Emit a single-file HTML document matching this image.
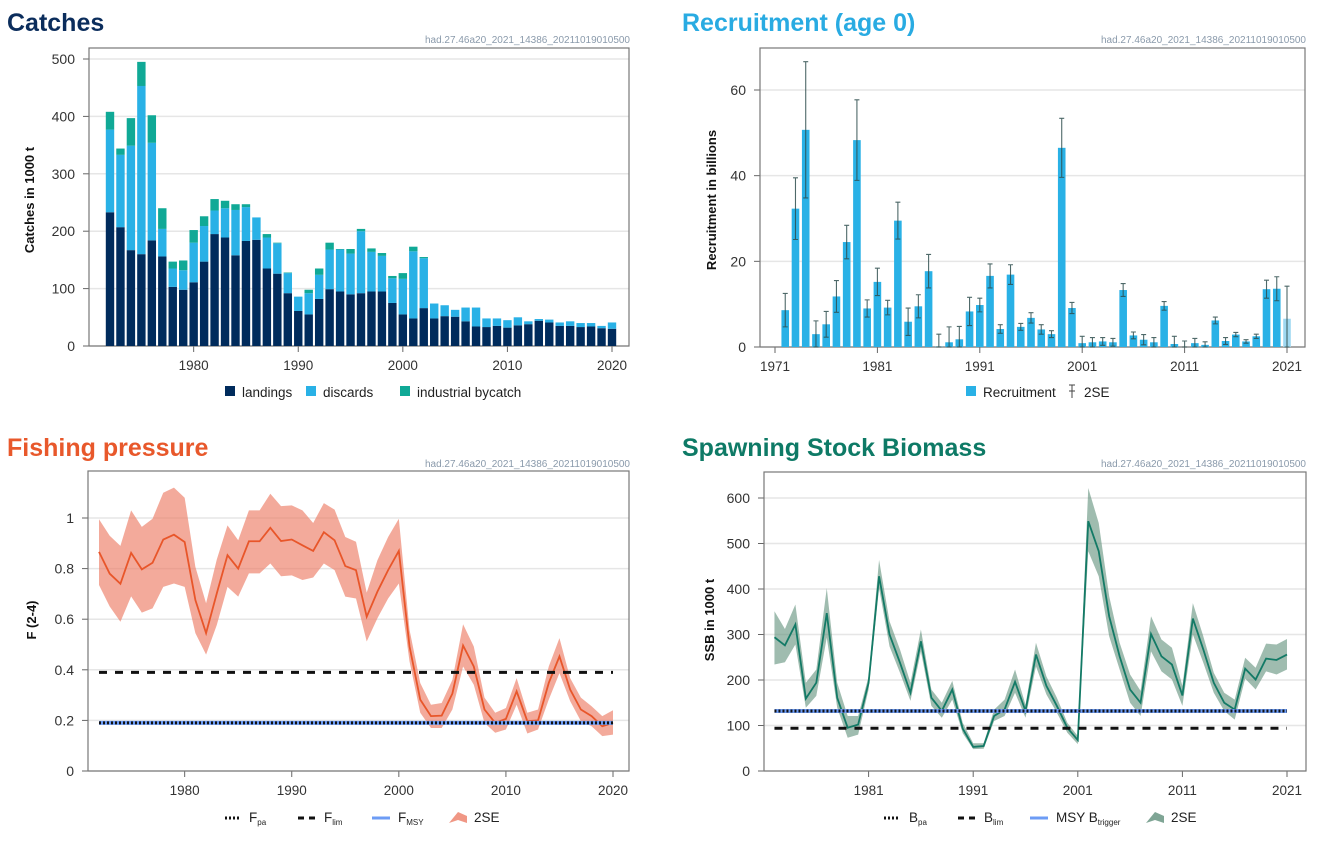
<!DOCTYPE html>
<html><head><meta charset="utf-8">
<style>
html,body{margin:0;padding:0;background:#fff;}
svg{display:block;font-family:"Liberation Sans",sans-serif;}
</style></head>
<body>
<svg id="c" width="1333" height="843" viewBox="0 0 1333 843">
<text x="7" y="31" font-size="25" font-weight="bold" fill="#0b2d5c">Catches</text>
<text x="682" y="31" font-size="25" font-weight="bold" fill="#29abe2">Recruitment (age 0)</text>
<text x="7" y="456" font-size="25" font-weight="bold" fill="#e8582b">Fishing pressure</text>
<text x="682" y="456" font-size="25" font-weight="bold" fill="#0e7a66">Spawning Stock Biomass</text>
<text x="630" y="43" font-size="10" fill="#8a9aab" text-anchor="end">had.27.46a20_2021_14386_20211019010500</text>
<text x="1306" y="43" font-size="10" fill="#8a9aab" text-anchor="end">had.27.46a20_2021_14386_20211019010500</text>
<text x="630" y="467" font-size="10" fill="#8a9aab" text-anchor="end">had.27.46a20_2021_14386_20211019010500</text>
<text x="1306" y="467" font-size="10" fill="#8a9aab" text-anchor="end">had.27.46a20_2021_14386_20211019010500</text>
<g id="g"></g>
</svg>
<script>
// ---- Catches data (1000 t), years 1972-2020
const catchYears = [1972,1973,1974,1975,1976,1977,1978,1979,1980,1981,1982,1983,1984,1985,1986,1987,1988,1989,1990,1991,1992,1993,1994,1995,1996,1997,1998,1999,2000,2001,2002,2003,2004,2005,2006,2007,2008,2009,2010,2011,2012,2013,2014,2015,2016,2017,2018,2019,2020];
const landings = [233,207,167,160,184,156,103,98,111,147,195,189,158,183,185,135,126,92,61,55,82,99,95,90,92,95,95,75,55,48,66,48,52,51,43,34,33,35,32,36,38,44,41,35,35,33,34,31,30];
const discards = [144,126,182,293,170,48,32,34,69,62,41,51,79,59,39,54,53,35,25,37,42,69,73,71,108,69,62,43,62,117,87,26,19,12,24,33,15,13,13,14,5,3,5,6,8,7,6,4,11];
const bycatch = [31,11,48,42,48,36,12,17,22,17,20,13,10,5,0,6,1,1,0,6,11,12,1,8,4,6,5,4,10,8,2,0,0,0,0,0,0,0,0,0,0,0,0,0,0,0,0,0,0];
const catchTicks = [0,100,200,300,400,500];
const catchXTicks = [1980,1990,2000,2010,2020];
// ---- Recruitment (billions), years 1972-2021
const recYears = [1972,1973,1974,1975,1976,1977,1978,1979,1980,1981,1982,1983,1984,1985,1986,1987,1988,1989,1990,1991,1992,1993,1994,1995,1996,1997,1998,1999,2000,2001,2002,2003,2004,2005,2006,2007,2008,2009,2010,2011,2012,2013,2014,2015,2016,2017,2018,2019,2020,2021];
const recruitment = [8.6,32.3,50.7,3.0,5.3,11.8,24.5,48.3,9.0,15.2,9.2,29.5,5.9,9.5,17.7,0.1,1.1,1.8,8.3,9.8,16.6,4.2,16.9,4.7,6.8,4.1,3.0,46.5,9.1,0.9,1.1,1.3,1.1,13.3,2.7,1.7,1.1,9.6,0.7,0,0.9,0.5,6.2,1.4,2.9,1.3,2.5,13.5,13.6,6.6];
const recUpper = [12.5,39.5,66.6,6.1,8.3,15.5,28.4,57.7,11,18.4,10.9,33.8,9.1,12.2,21.6,3.0,4.7,4.8,11.6,11.4,19.4,5.2,19.2,5.5,8.0,5.2,3.8,53.4,10.4,2.5,2.2,2.2,2.0,14.8,3.5,2.9,2.2,10.6,2.5,1.4,2.0,1.2,7.0,2.2,3.4,1.7,3.0,15.6,16.4,14.2];
const recTicks = [0,20,40,60];
const recXTicks = [1971,1981,1991,2001,2011,2021];
// ---- Fishing pressure F(2-4), years 1972-2020
const fYears = catchYears;
const fValues = [.866,.78,.74,.862,.797,.823,.915,.934,.905,.676,.545,.702,.853,.80,.908,.908,.961,.909,.915,.892,.87,.944,.912,.81,.794,.61,.709,.794,.87,.492,.282,.217,.219,.306,.496,.413,.243,.19,.206,.315,.197,.20,.348,.453,.322,.243,.217,.177,.19];
const fHigh = [.995,.93,.89,1.03,.965,.997,1.10,1.12,1.08,.807,.663,.836,.971,.912,1.03,1.03,1.096,1.047,1.05,1.03,.98,1.059,1.033,.925,.906,.705,.833,.925,.997,.558,.348,.262,.269,.36,.58,.492,.29,.23,.249,.367,.23,.243,.413,.525,.367,.29,.256,.217,.24];
const fLow = [.735,.65,.59,.69,.626,.643,.728,.741,.728,.545,.46,.577,.728,.689,.781,.781,.82,.77,.773,.755,.765,.82,.794,.689,.682,.512,.604,.682,.741,.433,.23,.17,.17,.243,.413,.341,.19,.151,.164,.262,.148,.164,.282,.387,.276,.197,.177,.138,.144];
const fRefs = [0.39,0.19]; // Flim, Fpa/FMSY
const fTicks = [0,0.2,0.4,0.6,0.8,1];
const fXTicks = [1980,1990,2000,2010,2020];
// ---- SSB (1000 t), years 1972-2021
const ssbYears = recYears;
const ssb = [294,276,322,159,194,347,161,95,102,194,428,300,238,172,285,161,132,179,93,53,55,121,135,196,132,256,187,143,95,68,549,483,340,252,179,150,301,252,234,166,335,267,194,150,135,225,201,247,244,256];
const ssbHigh = [351,312,366,194,223,402,194,121,121,208,464,329,267,194,311,179,150,198,106,61,61,135,157,223,146,282,208,161,106,77,622,545,384,282,212,176,340,289,271,187,369,296,216,172,157,249,227,280,278,290];
const ssbLow = [234,239,278,139,165,293,139,73,80,179,402,274,216,154,263,143,117,157,83,48,49,110,121,172,117,230,168,128,84,59,483,428,296,223,150,121,263,219,201,143,300,238,172,132,113,203,179,219,212,223];
const ssbRefs = [132,94]; // Bpa/MSY Btrigger, Blim
const ssbTicks = [0,100,200,300,400,500,600];
const ssbXTicks = [1981,1991,2001,2011,2021];

const NS="http://www.w3.org/2000/svg";
const G=document.getElementById('g');
function mk(tag,attrs,parent){const e=document.createElementNS(NS,tag);for(const k in attrs)e.setAttribute(k,attrs[k]);(parent||G).appendChild(e);return e;}
function lin(d0,d1,r0,r1){return v=>r0+(v-d0)/(d1-d0)*(r1-r0);}

function frame(L,T,R,B,yTicks,ys,xTicks,xs,fmt,name){
  yTicks.forEach(t=>{
    const gl=mk('line',{x1:L,x2:R,y1:ys(t),y2:ys(t),stroke:'#e6e6e6','stroke-width':1.5});
    
    
    const tl=mk('text',{x:L-14,y:ys(t)+5,'font-size':14,fill:'#333','text-anchor':'end'});
    tl.textContent=fmt(t);
    
    
    mk('line',{x1:L-6,x2:L,y1:ys(t),y2:ys(t),stroke:'#666'});
  });
  xTicks.forEach(t=>{
    mk('line',{x1:xs(t),x2:xs(t),y1:B,y2:B+6,stroke:'#666'});
    const tl=mk('text',{x:xs(t),y:B+24,'font-size':13.5,fill:'#333','text-anchor':'middle'});
    tl.textContent=t;
    
    
  });
  const fr=mk('rect',{x:L,y:T,width:R-L,height:B-T,fill:'none',stroke:'#777','stroke-width':1.2});
  
  
}
function ytitle(x,y,txt,name){
  const t=mk('text',{x:x,y:y,'font-size':13,'font-weight':'bold',fill:'#111','text-anchor':'middle',transform:`rotate(-90 ${x} ${y})`});
  t.textContent=txt;
  
  
}
function legText(x,y,txt,sub,name){
  const t=mk('text',{x:x,y:y,'font-size':13.5,fill:'#222'});
  t.textContent=txt;
  if(sub){const s=mk('tspan',{'font-size':8,dy:3},t);s.textContent=sub;}
  
  
}

// ===== Catches
(function(){
  const L=89,T=48,R=629,B=346;
  const xs=lin(1972,2020,110,612), ys=lin(0,500,B,59);
  frame(L,T,R,B,catchTicks,ys,catchXTicks,xs,v=>v,'catches');
  const w=8.4;
  catchYears.forEach((yr,i)=>{
    const x=xs(yr)-w/2;
    const a=landings[i],b=a+discards[i],c=b+bycatch[i];
    const r1=mk('rect',{x:x,y:ys(a),width:w,height:ys(0)-ys(a),fill:'#002b5c'});
    
    
    const r2=mk('rect',{x:x,y:ys(b),width:w,height:ys(a)-ys(b),fill:'#29b1e6'});
    
    
    if(bycatch[i]>0){
      const r3=mk('rect',{x:x,y:ys(c),width:w,height:ys(b)-ys(c),fill:'#10a996'});
      
      
    }
  });
  ytitle(34,200,'Catches in 1000 t','catches-y-axis-title');
  const lg=[[225,'#002b5c','landings'],[306,'#29b1e6','discards'],[400,'#10a996','industrial bycatch']];
  lg.forEach(([x,c,t])=>{
    const s=mk('rect',{x:x,y:386,width:10,height:10,fill:c});
    
    
    legText(x+17,397,t,null,'legend-entry-'+t.replace(' ','-'));
  });
})();

// ===== Recruitment
(function(){
  const L=760,T=48,R=1305,B=347;
  const xs=lin(1971,2021,775,1287), ys=lin(0,60,B,90);
  frame(L,T,R,B,recTicks,ys,recXTicks,xs,v=>v,'recruitment');
  const w=7.6;
  recYears.forEach((yr,i)=>{
    const v=recruitment[i],x=xs(yr);
    const r=mk('rect',{x:x-w/2,y:ys(v),width:w,height:ys(0)-ys(v),fill:yr===2021?'#9fd8f1':'#29b1e6'});
    
    
    const up=recUpper[i], lo=Math.max(0,2*v-up);
    const e=mk('path',{d:`M${x},${ys(up)}V${ys(lo)}M${x-2.5},${ys(up)}H${x+2.5}M${x-2.5},${ys(lo)}H${x+2.5}`,stroke:'#2f4f4f','stroke-width':1.1,fill:'none','stroke-opacity':0.85});
    
    
  });
  ytitle(716,200,'Recruitment in billions','recruitment-y-axis-title');
  const s=mk('rect',{x:966,y:386,width:10,height:10,fill:'#29b1e6'});
  
  
  legText(983,397,'Recruitment',null,'legend-entry-recruitment');
  const ic=mk('path',{d:'M1072,385V398M1069,385H1075M1069,391H1075',stroke:'#444',fill:'none'});
  
  
  legText(1084,397,'2SE',null,'legend-entry-2se');
})();

function band(xsArr,hi,lo,xs,ys,fill,op,name){
  let d='M'+xsArr.map((yr,i)=>xs(yr)+','+ys(hi[i])).join('L');
  d+='L'+xsArr.map((yr,i)=>[xs(yr),ys(lo[i])]).reverse().map(p=>p.join(',')).join('L')+'Z';
  const p=mk('path',{d:d,fill:fill,'fill-opacity':op});
  
  
}
function line(xsArr,vals,xs,ys,col,name){
  const p=mk('polyline',{points:xsArr.map((yr,i)=>xs(yr)+','+ys(vals[i])).join(' '),fill:'none',stroke:col,'stroke-width':1.8});
  
  
}
function hline(x1,x2,y,col,w,dash,name){
  const l=mk('line',{x1:x1,x2:x2,y1:y,y2:y,stroke:col,'stroke-width':w});
  if(dash)l.setAttribute('stroke-dasharray',dash);
  
  
}

// ===== Fishing pressure
(function(){
  const L=88,T=471,R=629,B=771;
  const xs=lin(1972,2020,99,613), ys=lin(0,1,B,518);
  frame(L,T,R,B,fTicks,ys,fXTicks,xs,v=>v===0?'0':(v===1?'1':String(v)),'f');
  band(fYears,fHigh,fLow,xs,ys,'#ec7d66',0.65,'f-2se-band');
  line(fYears,fValues,xs,ys,'#e8562a','f-line');
  hline(xs(1972),xs(2020),ys(fRefs[0]),'#111',3,'8,8','flim-line');
  hline(xs(1972),xs(2020),ys(fRefs[1]),'#6d9cf5',4,null,'fmsy-line');
  hline(xs(1972),xs(2020),ys(fRefs[1]),'#111',3,'2,2','fpa-line');
  ytitle(36,620,'F (2-4)','f-y-axis-title');
  hline(225,241,818,'#111',3,'2,2','legend-fpa-icon');
  legText(249,822,'F','pa','legend-entry-fpa');
  hline(298,316,818,'#111',3,'6,5','legend-flim-icon');
  legText(324,822,'F','lim','legend-entry-flim');
  hline(372,390,818,'#6d9cf5',3,null,'legend-fmsy-icon');
  legText(398,822,'F','MSY','legend-entry-fmsy');
  const ic=mk('path',{d:'M449,823L458,812L467,816L467,823L458,820Z',fill:'#ec7d66','fill-opacity':0.8});
  
  
  legText(474,822,'2SE',null,'legend-entry-f-2se');
})();

// ===== SSB
(function(){
  const L=764,T=472,R=1306,B=771;
  const xs=lin(1971,2021,764,1287), ys=lin(0,600,B,498);
  frame(L,T,R,B,ssbTicks,ys,ssbXTicks,xs,v=>v,'ssb');
  band(ssbYears,ssbHigh,ssbLow,xs,ys,'#5f8f7a',0.6,'ssb-2se-band');
  line(ssbYears,ssb,xs,ys,'#137a66','ssb-line');
  hline(xs(1972),xs(2021),ys(ssbRefs[1]),'#111',3,'8,8','blim-line');
  hline(xs(1972),xs(2021),ys(ssbRefs[0]),'#6d9cf5',4,null,'msy-btrigger-line');
  hline(xs(1972),xs(2021),ys(ssbRefs[0]),'#111',3,'2,2','bpa-line');
  ytitle(714,620,'SSB in 1000 t','ssb-y-axis-title');
  hline(884,900,818,'#111',3,'2,2','legend-bpa-icon');
  legText(909,822,'B','pa','legend-entry-bpa');
  hline(958,976,818,'#111',3,'6,5','legend-blim-icon');
  legText(984,822,'B','lim','legend-entry-blim');
  hline(1030,1048,818,'#6d9cf5',3,null,'legend-btrigger-icon');
  legText(1056,822,'MSY B','trigger','legend-entry-msy-btrigger');
  const ic=mk('path',{d:'M1146,823L1155,812L1164,816L1164,823L1155,820Z',fill:'#5f8f7a','fill-opacity':0.8});
  
  
  legText(1171,822,'2SE',null,'legend-entry-ssb-2se');
})();
</script>
</body></html>
